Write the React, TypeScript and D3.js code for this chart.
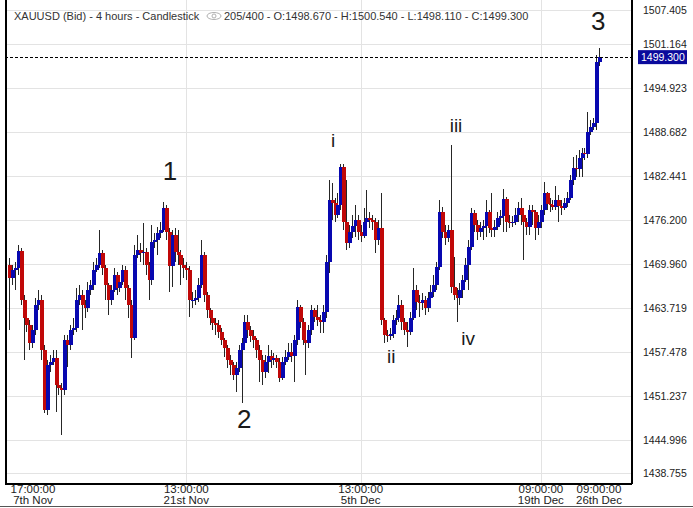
import React, { useEffect, useRef } from 'react';
import * as d3 from 'd3';

// 4h XAUUSD candles (oldest first)
const opens = [
  1469.81, 1467.97, 1469.10, 1469.39, 1471.80, 1464.85, 1462.29, 1461.30, 1458.75, 1460.59,
  1464.14, 1464.85, 1457.76, 1449.25, 1455.63, 1456.05, 1456.62, 1452.79, 1452.37, 1452.08,
  1459.17, 1458.47, 1460.59, 1460.88, 1464.85, 1465.56, 1464.14, 1463.71, 1466.27, 1466.98,
  1469.10, 1469.81, 1471.51, 1469.39, 1466.98, 1464.85, 1466.27, 1468.39, 1466.55, 1467.40,
  1469.10, 1466.55, 1464.14, 1459.46, 1471.23, 1471.94, 1471.51, 1471.66, 1469.81, 1467.68,
  1473.07, 1473.36, 1474.35, 1474.78, 1477.90, 1474.49, 1469.67, 1474.07, 1471.66, 1471.23,
  1469.81, 1469.39, 1469.10, 1464.85, 1464.85, 1465.13, 1466.98, 1471.23, 1465.56, 1463.43,
  1462.29, 1461.59, 1461.30, 1460.31, 1459.17, 1458.04, 1456.34, 1455.63, 1454.21, 1455.20,
  1457.76, 1458.75, 1461.73, 1460.59, 1459.74, 1459.17, 1457.76, 1456.34, 1454.64, 1456.05,
  1456.91, 1456.34, 1456.62, 1456.05, 1453.78, 1456.05, 1456.76, 1457.47, 1456.91, 1459.17,
  1463.86, 1461.73, 1459.17, 1458.75, 1460.59, 1463.43, 1462.44, 1462.01, 1461.73, 1463.15,
  1470.24, 1479.03, 1478.61, 1476.90, 1478.32, 1483.71, 1475.91, 1472.93, 1474.49, 1475.34,
  1476.20, 1474.49, 1473.93, 1475.91, 1476.48, 1476.20, 1475.91, 1473.36, 1475.06, 1462.01,
  1459.88, 1459.74, 1460.03, 1462.01, 1462.29, 1464.14, 1461.73, 1460.59, 1460.31, 1462.29,
  1466.27, 1464.56, 1464.42, 1464.85, 1463.71, 1465.13, 1465.98, 1466.98, 1469.53, 1477.33,
  1474.49, 1473.64, 1474.78, 1466.69, 1465.56, 1465.13, 1466.27, 1467.68, 1469.81, 1472.37,
  1477.19, 1475.49, 1474.49, 1475.06, 1475.34, 1477.33, 1475.06, 1474.78, 1475.20, 1476.48,
  1476.76, 1479.17, 1475.91, 1475.77, 1475.91, 1476.90, 1477.90, 1476.90, 1475.91, 1475.20,
  1477.61, 1477.33, 1475.06, 1475.91, 1477.61, 1480.02, 1478.46, 1478.32, 1478.04, 1479.03,
  1478.18, 1477.90, 1478.61, 1479.32, 1481.87, 1483.57, 1483.43, 1484.99, 1485.70, 1485.56,
  1488.68, 1489.39, 1489.95, 1498.67,
];

const closes = [
  1467.97, 1469.10, 1469.39, 1471.80, 1464.85, 1462.29, 1461.30, 1458.75, 1460.59, 1464.14,
  1464.85, 1457.76, 1449.25, 1455.63, 1456.05, 1456.62, 1452.79, 1452.37, 1452.08, 1459.17,
  1458.47, 1460.59, 1460.88, 1464.85, 1465.56, 1464.14, 1463.71, 1466.27, 1466.98, 1469.10,
  1469.81, 1471.51, 1469.39, 1466.98, 1464.85, 1466.27, 1468.39, 1466.55, 1467.40, 1469.10,
  1466.55, 1464.14, 1459.46, 1471.23, 1471.94, 1471.51, 1471.66, 1469.81, 1467.68, 1473.07,
  1473.36, 1474.35, 1474.78, 1477.90, 1474.49, 1469.67, 1474.07, 1471.66, 1471.23, 1469.81,
  1469.39, 1469.10, 1464.85, 1464.85, 1465.13, 1466.98, 1471.23, 1465.56, 1463.43, 1462.29,
  1461.59, 1461.30, 1460.31, 1459.17, 1458.04, 1456.34, 1455.63, 1454.21, 1455.20, 1457.76,
  1458.75, 1461.73, 1460.59, 1459.74, 1459.17, 1457.76, 1456.34, 1454.64, 1456.05, 1456.91,
  1456.34, 1456.62, 1456.05, 1453.78, 1456.05, 1456.76, 1457.47, 1456.91, 1459.17, 1463.86,
  1461.73, 1459.17, 1458.75, 1460.59, 1463.43, 1462.44, 1462.01, 1461.73, 1463.15, 1470.24,
  1479.03, 1478.61, 1476.90, 1478.32, 1483.71, 1475.91, 1472.93, 1474.49, 1475.34, 1476.20,
  1474.49, 1473.93, 1475.91, 1476.48, 1476.20, 1475.91, 1473.36, 1475.06, 1462.01, 1459.88,
  1459.74, 1460.03, 1462.01, 1462.29, 1464.14, 1461.73, 1460.59, 1460.31, 1462.29, 1466.27,
  1464.56, 1464.42, 1464.85, 1463.71, 1465.13, 1465.98, 1466.98, 1469.53, 1477.33, 1474.49,
  1473.64, 1474.78, 1466.69, 1465.56, 1465.13, 1466.27, 1467.68, 1469.81, 1472.37, 1477.19,
  1475.49, 1474.49, 1475.06, 1475.34, 1477.33, 1475.06, 1474.78, 1475.20, 1476.48, 1476.76,
  1479.17, 1475.91, 1475.77, 1475.91, 1476.90, 1477.90, 1476.90, 1475.91, 1475.20, 1477.61,
  1477.33, 1475.06, 1475.91, 1477.61, 1480.02, 1478.46, 1478.32, 1478.04, 1479.03, 1478.18,
  1477.90, 1478.61, 1479.32, 1481.87, 1483.57, 1483.43, 1484.99, 1485.70, 1485.56, 1488.68,
  1489.39, 1489.95, 1498.67, 1499.30,
];

const highs = [
  1470.81, 1469.81, 1470.24, 1472.65, 1472.22, 1465.56, 1462.72, 1462.01, 1461.30, 1465.13,
  1466.27, 1465.56, 1458.47, 1456.34, 1457.05, 1457.76, 1457.76, 1453.50, 1453.07, 1459.88,
  1459.88, 1461.30, 1462.29, 1466.55, 1466.98, 1466.27, 1464.85, 1467.40, 1467.68, 1470.24,
  1470.81, 1474.78, 1471.94, 1469.81, 1467.26, 1466.98, 1469.39, 1468.82, 1468.25, 1469.81,
  1469.67, 1466.98, 1464.85, 1472.65, 1474.07, 1472.93, 1475.77, 1472.22, 1470.24, 1475.49,
  1474.35, 1475.20, 1475.91, 1478.75, 1478.32, 1475.06, 1474.78, 1475.06, 1474.78, 1471.94,
  1470.81, 1470.24, 1469.67, 1465.98, 1466.27, 1467.97, 1473.36, 1471.66, 1465.98, 1463.71,
  1462.72, 1462.29, 1462.01, 1460.88, 1459.46, 1458.47, 1457.05, 1456.05, 1456.05, 1458.47,
  1459.46, 1462.72, 1462.72, 1461.16, 1460.59, 1459.46, 1458.47, 1457.05, 1457.05, 1458.47,
  1457.76, 1457.33, 1457.05, 1456.62, 1456.76, 1457.76, 1458.75, 1458.75, 1459.88, 1464.85,
  1464.14, 1462.29, 1459.88, 1461.30, 1464.14, 1463.71, 1464.14, 1462.72, 1464.14, 1471.23,
  1481.87, 1481.44, 1479.32, 1480.02, 1484.14, 1484.14, 1481.87, 1475.49, 1476.90, 1478.32,
  1476.90, 1475.49, 1477.90, 1480.45, 1477.33, 1476.90, 1476.48, 1476.20, 1480.02, 1462.29,
  1460.59, 1460.88, 1462.72, 1463.43, 1465.56, 1464.85, 1462.29, 1461.73, 1463.15, 1469.39,
  1466.98, 1465.56, 1465.84, 1465.42, 1465.98, 1466.98, 1468.39, 1470.24, 1479.03, 1478.04,
  1475.49, 1475.49, 1486.83, 1470.95, 1466.55, 1467.26, 1468.39, 1470.81, 1473.36, 1477.90,
  1477.61, 1476.20, 1475.91, 1476.20, 1479.03, 1477.61, 1480.02, 1476.20, 1477.33, 1477.61,
  1480.59, 1479.46, 1476.90, 1476.76, 1477.90, 1478.75, 1479.32, 1477.61, 1476.48, 1478.32,
  1478.32, 1477.61, 1476.90, 1478.32, 1481.59, 1480.17, 1479.32, 1479.03, 1481.02, 1479.74,
  1479.03, 1479.32, 1480.17, 1482.58, 1485.13, 1485.42, 1486.12, 1486.41, 1486.41, 1491.51,
  1490.38, 1490.66, 1499.60, 1500.54,
];

const lows = [
  1460.59, 1466.98, 1466.27, 1468.39, 1464.14, 1456.34, 1460.31, 1457.76, 1458.04, 1459.88,
  1463.43, 1456.34, 1448.82, 1448.54, 1454.64, 1455.63, 1448.96, 1451.37, 1445.70, 1451.37,
  1455.34, 1457.76, 1459.88, 1460.31, 1464.14, 1460.59, 1462.29, 1463.15, 1465.56, 1466.27,
  1468.82, 1469.39, 1468.39, 1464.85, 1462.72, 1464.14, 1465.98, 1465.56, 1465.98, 1466.98,
  1464.85, 1462.29, 1456.62, 1459.17, 1470.81, 1470.24, 1469.81, 1468.39, 1464.85, 1466.98,
  1472.22, 1471.23, 1473.64, 1474.49, 1473.36, 1465.98, 1466.69, 1470.24, 1469.81, 1466.98,
  1467.97, 1467.68, 1462.44, 1463.71, 1464.14, 1464.56, 1466.55, 1464.56, 1462.29, 1461.30,
  1460.59, 1459.88, 1459.46, 1458.47, 1456.76, 1455.20, 1454.21, 1453.50, 1451.80, 1454.64,
  1450.24, 1458.47, 1459.46, 1458.89, 1458.04, 1456.62, 1453.22, 1452.79, 1453.78, 1454.49,
  1455.20, 1455.63, 1455.20, 1453.22, 1453.50, 1455.63, 1456.34, 1456.05, 1453.22, 1458.47,
  1460.88, 1458.47, 1454.21, 1458.04, 1459.88, 1461.73, 1461.16, 1460.17, 1460.17, 1462.29,
  1468.68, 1476.20, 1475.91, 1476.48, 1477.61, 1474.78, 1471.94, 1472.22, 1473.64, 1473.78,
  1473.36, 1473.07, 1473.64, 1474.35, 1475.06, 1474.78, 1471.51, 1472.65, 1461.30, 1458.75,
  1458.89, 1459.17, 1459.46, 1461.30, 1461.73, 1460.59, 1459.88, 1458.18, 1459.88, 1462.01,
  1463.43, 1462.44, 1463.43, 1462.72, 1463.15, 1464.56, 1465.27, 1466.27, 1469.10, 1473.64,
  1472.65, 1473.07, 1465.84, 1464.85, 1461.73, 1464.14, 1465.13, 1467.40, 1466.27, 1471.94,
  1474.49, 1473.36, 1473.78, 1473.36, 1473.78, 1474.35, 1473.78, 1473.78, 1474.78, 1475.49,
  1474.49, 1474.49, 1475.06, 1475.20, 1475.49, 1475.91, 1475.49, 1470.52, 1474.07, 1474.07,
  1475.49, 1473.36, 1474.07, 1475.06, 1476.90, 1477.61, 1477.33, 1477.61, 1477.61, 1475.91,
  1476.90, 1477.61, 1478.04, 1479.03, 1481.16, 1482.29, 1482.29, 1482.29, 1484.71, 1484.99,
  1488.25, 1488.96, 1488.96, 1498.11,
];

// price axis
const priceTicks = [1507.405, 1501.164, 1494.923, 1488.682, 1482.441, 1476.200, 1469.960, 1463.719, 1457.478, 1451.237, 1444.996, 1438.755];
const lastPrice = 1499.300;

// time axis: candle index, time, date
const timeTickIndex = [0, 61, 121, 183, 203];
const timeTickTime = ['17:00:00', '13:00:00', '13:00:00', '09:00:00', '09:00:00'];
const timeTickDate = ['7th Nov', '21st Nov', '5th Dec', '19th Dec', '26th Dec'];

// Elliott wave annotations
const waveText = ['1', '2', '3', 'i', 'ii', 'iii', 'iv'];
const waveIndex = [55.4, 80.9, 202.7, 111.5, 131.5, 153.8, 158];
const wavePrice = [1481.87, 1446.69, 1503.14, 1486.55, 1455.91, 1488.68, 1458.47];

const FONT = 'Arial, "Liberation Sans", Helvetica, sans-serif';

const App = () => {
  const svgRef = useRef<SVGSVGElement | null>(null);

  useEffect(() => {
    if (!svgRef.current) return;
    d3.select(svgRef.current).selectAll('*').remove();

    const width = 693;
    const height = 508;
    const plot = { left: 5, right: 631, top: 0, bottom: 483 };

    const svg = d3.select(svgRef.current)
      .attr('width', width)
      .attr('height', height)
      .style('font-family', FONT);

    svg.append('rect').attr('width', width).attr('height', height).attr('fill', '#ffffff');

    const n = closes.length;
    const x = d3.scaleLinear().domain([0, n - 1]).range([9, 599]);
    const y = d3.scaleLinear().domain([1438.755, 1507.405]).range([484, 0]);

    const labelY = (v: number) => Math.max(10, Math.min(473, y(v)));

    // grid
    const grid = svg.append('g').attr('shape-rendering', 'crispEdges');
    grid.selectAll('line.h')
      .data(priceTicks)
      .enter()
      .append('line')
      .attr('x1', plot.left)
      .attr('x2', plot.right)
      .attr('y1', d => Math.round(labelY(d)) + 0.5)
      .attr('y2', d => Math.round(labelY(d)) + 0.5)
      .attr('stroke', '#e3e3e3');

    grid.selectAll('line.v')
      .data(timeTickIndex.slice(1, 4))
      .enter()
      .append('line')
      .attr('x1', d => Math.round(x(d)) + 0.5)
      .attr('x2', d => Math.round(x(d)) + 0.5)
      .attr('y1', plot.top)
      .attr('y2', plot.bottom)
      .attr('stroke', '#e3e3e3');

    // candles
    const candles = d3.range(n).map(i => ({
      i, o: opens[i], c: closes[i], h: highs[i], l: lows[i],
    }));

    const cg = svg.append('g').attr('shape-rendering', 'crispEdges');
    cg.selectAll('line.wick')
      .data(candles)
      .enter()
      .append('line')
      .attr('x1', d => Math.round(x(d.i)) + 0.5)
      .attr('x2', d => Math.round(x(d.i)) + 0.5)
      .attr('y1', d => y(d.h))
      .attr('y2', d => y(d.l))
      .attr('stroke', '#262626')
      .attr('stroke-width', 1);

    cg.selectAll('rect.body')
      .data(candles)
      .enter()
      .append('rect')
      .attr('x', d => Math.round(x(d.i)) - 1.5)
      .attr('width', 4)
      .attr('y', d => y(Math.max(d.o, d.c)))
      .attr('height', d => Math.max(1, Math.abs(y(d.o) - y(d.c))))
      .attr('fill', d => (d.c >= d.o ? '#0808b0' : '#c00808'));

    // last price dashed line
    svg.append('line')
      .attr('x1', plot.left)
      .attr('x2', plot.right)
      .attr('y1', Math.round(y(lastPrice)) + 0.5)
      .attr('y2', Math.round(y(lastPrice)) + 0.5)
      .attr('stroke', '#000')
      .attr('stroke-dasharray', '3,2')
      .attr('shape-rendering', 'crispEdges');

    // frame
    const frame = svg.append('g').attr('shape-rendering', 'crispEdges');
    frame.append('line').attr('x1', plot.left + 0.5).attr('x2', plot.left + 0.5).attr('y1', 0).attr('y2', plot.bottom).attr('stroke', '#000').attr('stroke-width', 2);
    frame.append('line').attr('x1', plot.right + 0.5).attr('x2', plot.right + 0.5).attr('y1', 0).attr('y2', plot.bottom + 1).attr('stroke', '#000').attr('stroke-width', 2);
    frame.append('line').attr('x1', plot.left).attr('x2', plot.right + 1).attr('y1', plot.bottom + 0.5).attr('y2', plot.bottom + 0.5).attr('stroke', '#000').attr('stroke-width', 2);
    frame.append('line').attr('x1', 0).attr('x2', width).attr('y1', 506.5).attr('y2', 506.5).attr('stroke', '#555');

    // price labels
    svg.append('g')
      .selectAll('text')
      .data(priceTicks)
      .enter()
      .append('text')
      .attr('x', 643)
      .attr('y', d => labelY(d) + 4)
      .attr('font-size', '10.5px')
      .attr('fill', '#222')
      .text(d => d.toFixed(3));

    // last price box
    const ly = y(lastPrice);
    svg.append('rect')
      .attr('x', 638)
      .attr('y', ly - 7)
      .attr('width', 49)
      .attr('height', 14)
      .attr('fill', '#0a0a9c');
    svg.append('text')
      .attr('x', 641)
      .attr('y', ly + 4)
      .attr('font-size', '10.5px')
      .attr('fill', '#ffffff')
      .text(lastPrice.toFixed(3));

    // time labels
    const tl = svg.append('g');
    timeTickIndex.forEach((idx, k) => {
      let cx = x(idx);
      cx = Math.max(plot.left + 28, Math.min(plot.right - 24, cx));
      tl.append('text')
        .attr('x', cx)
        .attr('y', 492.5)
        .attr('text-anchor', 'middle')
        .attr('font-size', '11.5px')
        .attr('fill', '#222')
        .text(timeTickTime[k]);
      tl.append('text')
        .attr('x', cx)
        .attr('y', 504)
        .attr('text-anchor', 'middle')
        .attr('font-size', '11.5px')
        .attr('fill', '#222')
        .text(timeTickDate[k]);
    });

    // header
    svg.append('text')
      .attr('x', 14)
      .attr('y', 20)
      .attr('font-size', '11px')
      .attr('fill', '#333')
      .text('XAUUSD (Bid) - 4 hours - Candlestick');

    const eye = svg.append('g').attr('transform', 'translate(214,16)');
    eye.append('ellipse').attr('rx', 7).attr('ry', 3.5).attr('fill', 'none').attr('stroke', '#b0b0b0');
    eye.append('circle').attr('r', 2).attr('fill', 'none').attr('stroke', '#b0b0b0');

    svg.append('text')
      .attr('x', 224)
      .attr('y', 20)
      .attr('font-size', '11px')
      .attr('fill', '#333')
      .text('205/400 - O:1498.670 - H:1500.540 - L:1498.110 - C:1499.300');

    // wave labels
    svg.append('g')
      .selectAll('text')
      .data(waveText)
      .enter()
      .append('text')
      .attr('x', (d, k) => x(waveIndex[k]))
      .attr('y', (d, k) => y(wavePrice[k]))
      .attr('text-anchor', 'middle')
      .attr('font-size', d => (/\d/.test(d) ? '26px' : '19px'))
      .attr('fill', '#1a1a1a')
      .text(d => d);
  }, []);

  return (
    <div style={{ position: 'absolute', left: 0, top: 0, width: 693, height: 508 }}>
      <svg ref={svgRef} style={{ display: 'block' }}></svg>
    </div>
  );
};

export default App;
